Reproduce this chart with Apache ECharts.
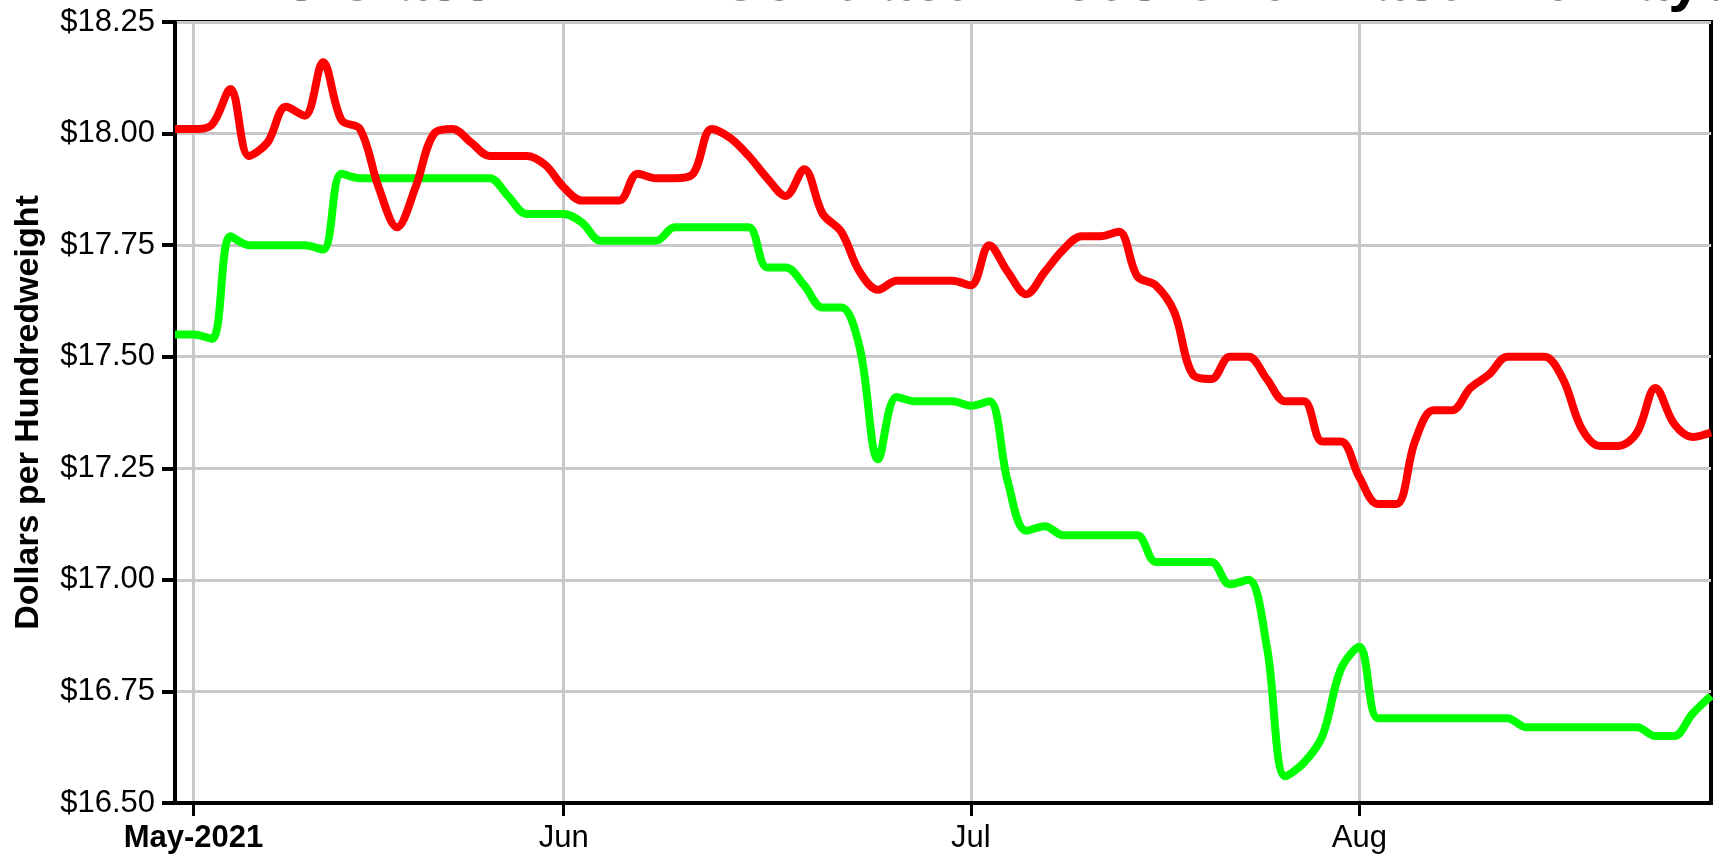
<!DOCTYPE html>
<html>
<head>
<meta charset="utf-8">
<script src="https://cdn.jsdelivr.net/npm/echarts@6/dist/echarts.min.js"></script>
<style>
html, body { margin: 0; padding: 0; background: #fff; }
#container { width: 1718px; height: 854px; }
</style>
</head>
<body>
<div id="container"></div>
<script>
let chart = echarts.init(document.getElementById('container'));

// trading days, Apr 30 2021 .. Aug 27 2021
var dates = [
    '04/30',
    '05/03','05/04','05/05','05/06','05/07','05/10','05/11','05/12','05/13','05/14',
    '05/17','05/18','05/19','05/20','05/21','05/24','05/25','05/26','05/27','05/28',
    '06/01','06/02','06/03','06/04','06/07','06/08','06/09','06/10','06/11',
    '06/14','06/15','06/16','06/17','06/18','06/21','06/22','06/23','06/24','06/25',
    '06/28','06/29','06/30',
    '07/01','07/02','07/06','07/07','07/08','07/09','07/12','07/13','07/14','07/15','07/16',
    '07/19','07/20','07/21','07/22','07/23','07/26','07/27','07/28','07/29','07/30',
    '08/02','08/03','08/04','08/05','08/06','08/09','08/10','08/11','08/12','08/13',
    '08/16','08/17','08/18','08/19','08/20','08/23','08/24','08/25','08/26','08/27'
];

var redPrices = [
    18.01, 18.01, 18.02, 18.10, 17.95, 17.98, 18.06, 18.04, 18.16, 18.03,
    18.01, 17.88, 17.79, 17.88, 18.00, 18.01, 17.98, 17.95, 17.95, 17.95,
    17.93, 17.88, 17.85, 17.85, 17.85, 17.91, 17.90, 17.90, 17.91, 18.01,
    17.99, 17.95, 17.90, 17.86, 17.92, 17.82, 17.78, 17.69, 17.65, 17.67,
    17.67, 17.67, 17.67, 17.66, 17.75, 17.69, 17.64, 17.69, 17.74, 17.77,
    17.77, 17.78, 17.68, 17.66, 17.60, 17.46, 17.45, 17.50, 17.50, 17.45,
    17.40, 17.40, 17.31, 17.31, 17.23, 17.17, 17.17, 17.31, 17.38, 17.38,
    17.43, 17.46, 17.50, 17.50, 17.50, 17.45, 17.34, 17.30, 17.30, 17.33,
    17.43, 17.35, 17.32, 17.33
];

var greenPrices = [
    17.55, 17.55, 17.54, 17.77, 17.75, 17.75, 17.75, 17.75, 17.74, 17.91,
    17.90, 17.90, 17.90, 17.90, 17.90, 17.90, 17.90, 17.90, 17.86, 17.82,
    17.82, 17.82, 17.80, 17.76, 17.76, 17.76, 17.76, 17.79, 17.79, 17.79,
    17.79, 17.79, 17.70, 17.70, 17.66, 17.61, 17.61, 17.52, 17.27, 17.41,
    17.40, 17.40, 17.40, 17.39, 17.40, 17.22, 17.11, 17.12, 17.10, 17.10,
    17.10, 17.10, 17.10, 17.04, 17.04, 17.04, 17.04, 16.99, 17.00, 16.85,
    16.56, 16.59, 16.65, 16.80, 16.85, 16.69, 16.69, 16.69, 16.69, 16.69,
    16.69, 16.69, 16.69, 16.67, 16.67, 16.67, 16.67, 16.67, 16.67, 16.67,
    16.65, 16.65, 16.70, 16.74
];

var tickDates = ['05/03', '06/01', '07/01', '08/02'];
var tickNames = ['May-2021', 'Jun', 'Jul', 'Aug'];

var titleText = 'Class III Milk 22 vs Class IV Milk Contract Prices Over Past 120 Days';
var font = 'Liberation Sans, Arial, sans-serif';

function isTick(index, value) {
    return tickDates.indexOf(dates[index]) != -1;
}

var option = {
    animation: false,
    backgroundColor: '#fff',
    title: {
        text: titleText,
        right: -22,
        top: -52,
        textStyle: { fontFamily: font, fontWeight: 'bold', fontSize: 60, color: '#000' }
    },
    grid: {
        left: 175,
        right: 7,
        top: 22,
        bottom: 51,
        show: true,
        borderColor: '#000',
        borderWidth: 4,
        backgroundColor: '#fff'
    },
    xAxis: {
        type: 'category',
        data: dates,
        boundaryGap: false,
        axisLine: { lineStyle: { color: '#000', width: 4 } },
        axisTick: { show: true, interval: isTick, length: 13, lineStyle: { color: '#000', width: 3 } },
        axisLabel: {
            interval: isTick,
            margin: 20,
            color: '#000',
            fontFamily: font,
            fontSize: 31,
            formatter: function(value) {
                var k = tickDates.indexOf(value);
                if (k == 0) { return '{b|' + tickNames[k] + '}'; }
                return tickNames[k];
            },
            rich: {
                b: { fontFamily: font, fontSize: 31, fontWeight: 'bold', color: '#000' }
            }
        },
        splitLine: { show: true, interval: isTick, lineStyle: { color: '#c8c8c8', width: 3 } }
    },
    yAxis: {
        type: 'value',
        min: 16.5,
        max: 18.25,
        interval: 0.25,
        name: 'Dollars per Hundredweight',
        nameLocation: 'middle',
        nameGap: 129,
        nameTextStyle: { fontFamily: font, fontWeight: 'bold', fontSize: 34, color: '#000' },
        axisLine: { show: true, lineStyle: { color: '#000', width: 4 } },
        axisTick: { show: true, length: 13, lineStyle: { color: '#000', width: 4 } },
        axisLabel: {
            margin: 20,
            color: '#000',
            fontFamily: font,
            fontSize: 31,
            formatter: function(v) { return '$' + v.toFixed(2); }
        },
        splitLine: { show: true, lineStyle: { color: '#c8c8c8', width: 3 } }
    },
    series: [
        {
            type: 'line',
            data: greenPrices,
            smooth: 0.35,
            symbol: 'none',
            lineStyle: { color: '#00ff00', width: 8 }
        },
        {
            type: 'line',
            data: redPrices,
            smooth: 0.35,
            symbol: 'none',
            lineStyle: { color: '#ff0000', width: 8 }
        }
    ]
};

chart.setOption(option);
</script>
</body>
</html>
